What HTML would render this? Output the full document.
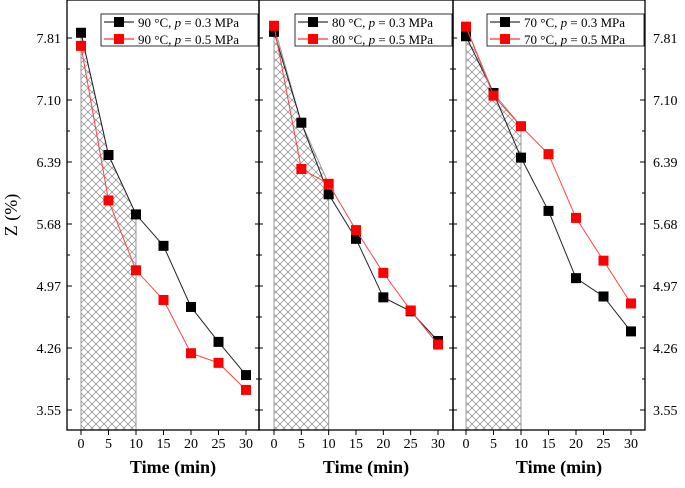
<!DOCTYPE html>
<html><head><meta charset="utf-8"><style>
html,body{margin:0;padding:0;background:#fff;}
svg text{font-family:"Liberation Serif",serif;}
</style></head><body>
<svg id="chart" width="685" height="483" xmlns="http://www.w3.org/2000/svg">
<defs>
<pattern id="hatch" width="8" height="8" patternUnits="userSpaceOnUse">
<path d="M0,0 L8,8 M8,0 L0,8" stroke="#888" stroke-width="0.7" fill="none"/>
</pattern>
</defs>
<g id="root"></g>
</svg>
<script>
const times = [0,5,10,15,20,25,30];
const yTicks = [3.55,4.26,4.97,5.68,6.39,7.10,7.81];
const xTicks = [0,5,10,15,20,25,30];
const temps = ["90","80","70"];
const black90 = [7.87,6.47,5.79,5.43,4.73,4.33,3.95];
const red90 = [7.72,5.95,5.15,4.81,4.20,4.09,3.78];
const black80 = [7.88,6.84,6.02,5.51,4.84,4.68,4.34];
const red80 = [7.95,6.31,6.14,5.61,5.12,4.69,4.30];
const black70 = [7.83,7.18,6.44,5.83,5.06,4.85,4.45];
const red70 = [7.94,7.15,6.80,6.48,5.75,5.26,4.77];
const blackSeries=[black90,black80,black70];
const redSeries=[red90,red80,red70];

const NS="http://www.w3.org/2000/svg";
const root=document.getElementById('root');
function mk(tag,attrs,parent){const e=document.createElementNS(NS,tag);for(const k in attrs)e.setAttribute(k,attrs[k]);(parent||root).appendChild(e);return e;}
const top0=0,bot=430;
const panels=[{l:67,r:259,x0:81,x1:246},{l:259,r:453,x0:274,x1:438},{l:453,r:645,x0:466,x1:631}];
function yS(v){return 38+(7.81-v)*(410-38)/(7.81-3.55);}
panels.forEach((p,i)=>{
  const xS=t=>p.x0+(t/30)*(p.x1-p.x0);
  const g=mk('g',{});
  
  
  const bs=blackSeries[i], rs=redSeries[i];
  // hatch area
  let d='M'+xS(0)+','+bot;
  times.forEach((t,k)=>{if(t<=10)d+=' L'+xS(t)+','+yS(Math.max(bs[k],rs[k]));});
  d+=' L'+xS(10)+','+bot+' Z';
  const h=mk('path',{d:d,fill:'url(#hatch)',stroke:'#999','stroke-width':1},g);
  
  
  // frame
  const fr=mk('rect',{x:p.l,y:top0,width:p.r-p.l,height:bot-top0,fill:'none',stroke:'#000','stroke-width':1.3},g);
  
  
  // y ticks
  yTicks.forEach((v,k)=>{
    const y=yS(v);
    if(i==0) mk('line',{x1:p.l,x2:p.l+5,y1:y,y2:y,stroke:'#000'},g);
    if(i==2) mk('line',{x1:p.r,x2:p.r-5,y1:y,y2:y,stroke:'#000'},g);
    if(i<2) mk('line',{x1:p.r,x2:p.r-4,y1:y,y2:y,stroke:'#000'},g);
    if(i>0) mk('line',{x1:p.l,x2:p.l+4,y1:y,y2:y,stroke:'#000'},g);
    const ym=yS(v+0.355);
    if(k<yTicks.length-1){
      mk('line',{x1:p.l,x2:p.l+3,y1:ym,y2:ym,stroke:'#000'},g);
      mk('line',{x1:p.r,x2:p.r-3,y1:ym,y2:ym,stroke:'#000'},g);
    }
    if(i==0){const tl=mk('text',{x:p.l-6,y:y+5,'text-anchor':'end','font-size':14},g);tl.textContent=v.toFixed(2);
      }
    if(i==2){const tl=mk('text',{x:p.r+8,y:y+5,'text-anchor':'start','font-size':14},g);tl.textContent=v.toFixed(2);
      }
  });
  xTicks.forEach(t=>{
    const x=xS(t);
    mk('line',{x1:x,x2:x,y1:bot,y2:bot+5,stroke:'#000'},g);
    const tl=mk('text',{x:x,y:448,'text-anchor':'middle','font-size':14},g);tl.textContent=t;
    
  });
  const xt=mk('text',{x:(p.l+p.r)/2+10,y:473,'text-anchor':'middle','font-size':18,'font-weight':'bold'},g);
  xt.textContent='Time (min)';
  
  
  [[bs,'#000','#222','black'],[rs,'#f00','#f44','red']].forEach(([s,fc,lc,nm])=>{
    const pl=mk('polyline',{points:times.map((t,k)=>xS(t)+','+yS(s[k])).join(' '),fill:'none',stroke:lc,'stroke-width':1},g);
    
    
    times.forEach((t,k)=>{
      const m=mk('rect',{x:xS(t)-5,y:yS(s[k])-5,width:10,height:10,fill:fc},g);
      
      
    });
  });
  // legend
  const lg=mk('g',{},g);
  
  
  const lx=p.r-158;
  mk('rect',{x:lx,y:14,width:157,height:32,fill:'#fff',stroke:'#000','stroke-width':0.8},lg);
  [['0.3','#000',22],['0.5','#f00',39]].forEach(([pr,c,y])=>{
    mk('line',{x1:lx+3,x2:lx+33,y1:y,y2:y,stroke:c},lg);
    mk('rect',{x:lx+13,y:y-5,width:10,height:10,fill:c},lg);
    const tx=mk('text',{x:lx+37,y:y+5,'font-size':13},lg);
    tx.innerHTML=temps[i]+' °C, <tspan font-style="italic">p</tspan> = '+pr+' MPa';
    
    
  });
});
const yt=mk('text',{x:0,y:0,'text-anchor':'middle','font-size':18,transform:'translate(17,215) rotate(-90)'});
yt.textContent='Z (%)';


</script>
</body></html>
